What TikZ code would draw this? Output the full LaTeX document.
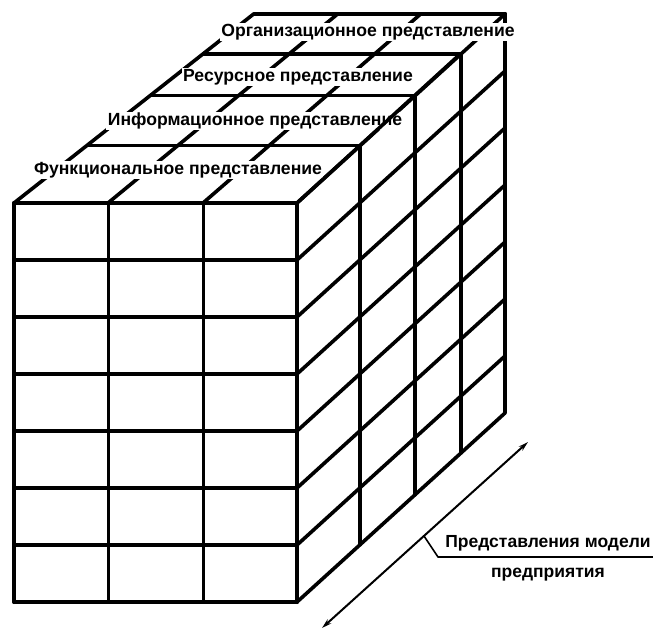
\documentclass[tikz,border=0pt]{standalone}
\usepackage{fontspec}
\setmainfont{Liberation Sans}
\usetikzlibrary{arrows.meta,calc}
\begin{document}
\begin{tikzpicture}[x=1pt,y=-1pt,line join=round,line cap=round,
  outer/.style={line width=4.2pt},
  gridline/.style={line width=3.6pt},
  thinline/.style={line width=3pt},
  lbl/.style={fill=white,inner xsep=1.5pt,inner ysep=1pt,font=\bfseries\fontsize{17.6}{19}\selectfont},
  note/.style={inner sep=1pt,font=\bfseries\fontsize{17.5}{19}\selectfont},
]
\useasboundingbox (0,0) rectangle (653,631);
% front face rows and right-face row diagonals
\foreach \r in {0,...,7} {
  \draw[gridline] (14,{203+57*\r}) -- (297,{203+57*\r}) -- (505,{14+57*\r});
}
% front face verticals
\draw[outer] (14,203) -- (14,602);
\draw[thinline] (108,203) -- (108,602);
\draw[thinline] (203,203) -- (203,602);
\draw[outer] (297,203) -- (297,602);
% right face verticals and top face strip lines
\foreach \x in {360,415,461,505} {
  \pgfmathsetmacro{\yy}{203-(\x-297)*0.91}
  \pgfmathsetmacro{\lx}{14+(203-\yy)*1.2698}
  \draw[gridline] (\x,\yy) -- ++(0,399);
  \draw[gridline] (\lx,\yy) -- (\x,\yy);
}
% top face column diagonals
\draw[gridline] (14,203) -- (254,13.7);
\draw[gridline] (108,203) -- (338,13.7);
\draw[gridline] (203,203) -- (421,13.7);
% labels of the views
\node[lbl] (f) at (178,170) {Функциональное представление};
\node[lbl] (i) at (255,121) {Информационное представление};
\node[lbl] (r) at (298,77) {Ресурсное представление};
% right edge of the top face runs over the lower labels
\coordinate (c0) at (297,203);
\coordinate (c3) at (461,53.3);
\draw[gridline] (c0) -- (c3);
\node[lbl] (o) at (368,32) {Организационное представление};
% axis arrow
\coordinate (a1) at (322,628);
\coordinate (a2) at (528,442);
\draw[line width=2pt,{Stealth[length=10pt,width=5.5pt]}-{Stealth[length=10pt,width=5.5pt]}] (a1) -- (a2);
\coordinate (lp) at ($(a1)!0.495!(a2)$);
\coordinate (lk) at (438,557);
\coordinate (le) at (653,557);
\draw[line width=1.6pt] (lp) -- (lk) -- (le);
\node[note] (t1) at (548,543) {Представления модели};
\node[note] (t2) at (548,575) {предприятия};
\end{tikzpicture}
\end{document}
